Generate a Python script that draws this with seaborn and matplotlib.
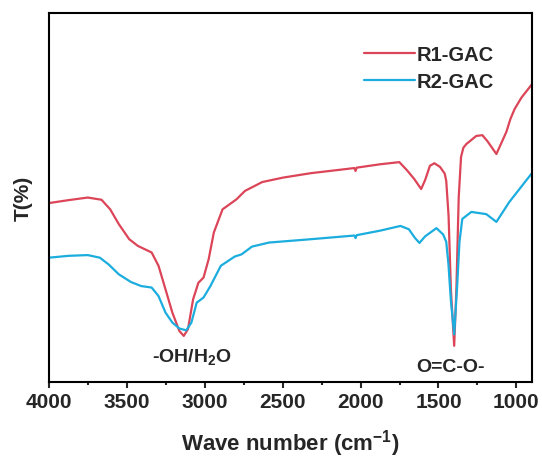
import numpy as np
import pandas as pd
import matplotlib.pyplot as plt
import seaborn as sns

# FTIR spectra (wavenumber cm-1, transmittance a.u.)
wn_r1 = [4000, 3874, 3751, 3663, 3607, 3552, 3485, 3430, 3341, 3297, 3252, 3208,
         3163, 3135, 3108, 3075, 3041, 3008, 2975, 2942, 2886, 2797, 2742, 2631,
         2498, 2320, 2098, 2040, 2032, 2025, 1877, 1751, 1700, 1655, 1611, 1585,
         1555, 1526, 1490, 1460, 1450, 1435, 1420, 1399, 1385, 1370, 1355, 1340,
         1321, 1257, 1218, 1186, 1128, 1064, 1038, 1011, 967, 900]
t_r1 = [48.5, 49.3, 50.0, 49.4, 46.8, 42.8, 38.7, 36.9, 35.1, 31.5, 25.1, 18.8,
        13.8, 12.5, 14.3, 22.4, 26.9, 28.3, 33.3, 40.5, 46.8, 49.5, 51.8, 54.2,
        55.4, 56.6, 57.7, 58.0, 57.2, 58.1, 59.0, 59.6, 57.3, 55.0, 52.3, 54.8,
        58.6, 59.3, 58.3, 56.5, 54.5, 45.0, 25.0, 9.8, 25.0, 50.0, 61.0, 63.5,
        64.5, 66.7, 66.9, 65.3, 61.8, 67.8, 71.3, 74.0, 77.1, 80.7]

wn_r2 = [4000, 3874, 3751, 3674, 3618, 3552, 3474, 3408, 3341, 3297, 3252, 3208,
         3163, 3119, 3086, 3052, 3008, 2964, 2897, 2808, 2764, 2697, 2587, 2320,
         2040, 2032, 2025, 1877, 1744, 1690, 1650, 1622, 1585, 1513, 1470, 1450,
         1436, 1420, 1399, 1380, 1365, 1347, 1289, 1193, 1128, 1045, 904]
t_r2 = [33.7, 34.2, 34.4, 33.7, 31.9, 29.2, 27.1, 26.0, 25.6, 23.3, 18.8, 16.1,
        14.5, 14.0, 16.1, 21.5, 22.9, 26.0, 31.5, 34.0, 34.6, 36.7, 37.8, 38.7,
        39.7, 39.0, 39.8, 41.0, 42.3, 41.4, 39.0, 37.7, 39.5, 41.7, 40.0, 38.0,
        32.0, 22.0, 12.9, 26.0, 38.0, 44.2, 46.1, 45.5, 43.4, 48.8, 56.4]

samples = ['R1-GAC', 'R2-GAC']
colors = ['#dc4558', '#1badde']

df = pd.concat([
    pd.DataFrame({'wn': wn_r1, 'T': t_r1, 'sample': samples[0]}),
    pd.DataFrame({'wn': wn_r2, 'T': t_r2, 'sample': samples[1]}),
])

sns.set_style('ticks')
plt.rcParams['font.family'] = ['Liberation Sans', 'DejaVu Sans']
plt.rcParams['font.weight'] = 'bold'
plt.rcParams['mathtext.fontset'] = 'custom'
plt.rcParams['mathtext.rm'] = 'Liberation Sans:bold'
plt.rcParams['mathtext.bf'] = 'Liberation Sans:bold'
plt.rcParams['mathtext.default'] = 'bf'

fig = plt.figure(figsize=(5.42, 4.6), dpi=100)
ax = fig.add_axes([0.0904, 0.1674, 0.891, 0.802])

sns.lineplot(data=df, x='wn', y='T', hue='sample', palette=colors,
             estimator=None, linewidth=1.6, ax=ax)

ax.set_xlim(4000, 900)
ax.set_ylim(0, 100)
ax.set_xticks([4000, 3500, 3000, 2500, 2000, 1500, 1000])
ax.set_xticks(np.arange(3750, 900, -500), minor=True)
ax.set_yticks([])
ax.tick_params(axis='x', which='major', direction='out', length=4, width=1.5,
               labelsize=15, pad=3)
ax.tick_params(axis='x', which='minor', direction='out', length=2.5, width=1.5)
for s in ax.spines.values():
    s.set_linewidth(1.5)
    s.set_color('black')

ax.set_xlabel('Wave number (cm$^{-1}$)', fontsize=16, fontweight='bold', labelpad=12)
ax.set_ylabel('T(%)', fontsize=15, fontweight='bold', labelpad=12)

ax.text(3081, 7.1, '-OH/H$_2$O', fontsize=14, fontweight='bold', ha='center', va='center')
ax.text(1422, 4.3, 'O=C-O-', fontsize=14, fontweight='bold', ha='center', va='center')

ax.legend(frameon=False, fontsize=14.5, loc='upper right', bbox_to_anchor=(0.938, 0.935),
          borderaxespad=0, handlelength=2.5, handletextpad=0.1, labelspacing=0.4,
          title=None)

fig.savefig('out.png', dpi=100)
